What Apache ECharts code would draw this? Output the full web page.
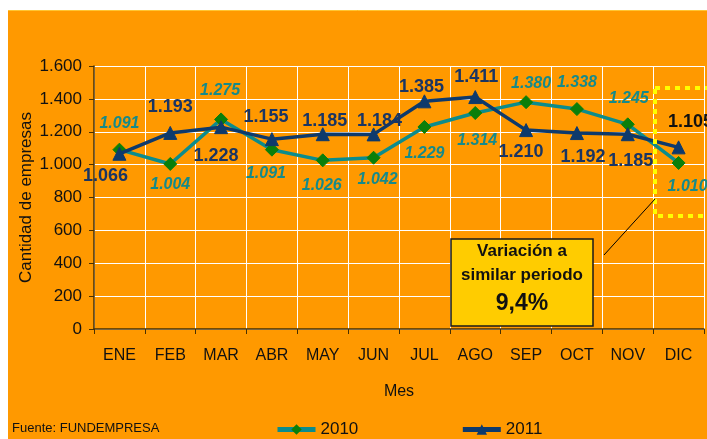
<!DOCTYPE html>
<html>
<head>
<meta charset="utf-8">
<script src="https://cdn.jsdelivr.net/npm/echarts@6/dist/echarts.min.js"></script>
<style>
  html, body { margin: 0; padding: 0; background: #fff; }
  #chart { width: 707px; height: 439px; }
</style>
</head>
<body>
<div id="chart"></div>
<script>
// ===== Data =====
const months = ['ENE', 'FEB', 'MAR', 'ABR', 'MAY', 'JUN', 'JUL', 'AGO', 'SEP', 'OCT', 'NOV', 'DIC'];
const values2010 = [1091, 1004, 1275, 1091, 1026, 1042, 1229, 1314, 1380, 1338, 1245, 1010];
const values2011 = [1066, 1193, 1228, 1155, 1185, 1184, 1385, 1411, 1210, 1192, 1185, 1105];
const yTicks = [0, 200, 400, 600, 800, 1000, 1200, 1400, 1600];

// label offsets from each point (layout only)
const offsets2010 = [[0, -26], [0, 21], [-1, -29], [-6, 24], [-1, 25], [4, 22], [0, 27], [2, 28], [5, -19], [0, -26], [1, -26], [9, 24]];
const offsets2011 = [[-14, 22], [0, -26], [-5, 29], [-6, -22], [2, -13], [6, -13], [-3, -14], [1, -20], [-5, 22], [6, 24], [3, 27], [12, -25]];

const FONT = 'Liberation Sans, Arial, sans-serif';

function fmt(v) {
  return String(v).replace(/\B(?=(\d{3})+(?!\d))/g, '.');
}

function buildData(values, offsets, extra) {
  return values.map((v, i) => {
    const item = { value: v, label: { offset: offsets[i] } };
    if (extra && extra[i]) Object.assign(item.label, extra[i]);
    return item;
  });
}

const chart = echarts.init(document.getElementById('chart'));

const option = {
  backgroundColor: '#FF9900',
  animation: false,
  grid: { left: 94, right: 3, top: 66, bottom: 110, containLabel: false },
  xAxis: {
    type: 'category',
    data: months,
    boundaryGap: true,
    name: 'Mes',
    nameLocation: 'middle',
    nameGap: 55,
    nameTextStyle: { color: '#111', fontSize: 16, fontFamily: FONT },
    axisLine: { lineStyle: { color: '#4a3000', width: 1.5 } },
    axisTick: { show: true, length: 5, inside: false, lineStyle: { color: '#4a3000' } },
    axisLabel: { color: '#111', fontSize: 16, fontFamily: FONT, margin: 19 },
    splitLine: { show: true, lineStyle: { color: '#ffffff', width: 1 } }
  },
  yAxis: {
    type: 'value',
    min: yTicks[0],
    max: yTicks[yTicks.length - 1],
    interval: 200,
    name: 'Cantidad de empresas',
    nameLocation: 'middle',
    nameGap: 59,
    nameMoveOverlap: false,
    nameTextStyle: { color: '#111', fontSize: 17, fontFamily: FONT },
    axisLine: { show: true, lineStyle: { color: '#4a3000', width: 1.5 } },
    axisTick: { show: true, length: 5, lineStyle: { color: '#4a3000' } },
    axisLabel: { color: '#111', fontSize: 17, fontFamily: FONT, margin: 12, formatter: v => fmt(v) },
    splitLine: { show: true, lineStyle: { color: '#ffffff', width: 1 } }
  },
  legend: {
    left: 270,
    top: 416,
    itemWidth: 38,
    itemHeight: 13,
    itemGap: 102,
    lineStyle: { width: 5 },
    textStyle: { color: '#111', fontSize: 17, fontFamily: FONT },
    data: ['2010', '2011']
  },
  series: [
    {
      name: '2010',
      type: 'line',
      data: buildData(values2010, offsets2010),
      symbol: 'diamond',
      symbolSize: 13,
      lineStyle: { color: '#0C8C8C', width: 3.5 },
      itemStyle: { color: '#0A7F0A', borderColor: '#0A7F0A' },
      label: {
        show: true,
        position: 'inside',
        align: 'center',
        verticalAlign: 'middle',
        formatter: p => fmt(p.value),
        color: '#158A8A',
        fontSize: 16,
        fontWeight: 'bold',
        fontStyle: 'italic',
        fontFamily: FONT
      },
      z: 2
    },
    {
      name: '2011',
      type: 'line',
      data: buildData(values2011, offsets2011, { 11: { color: '#111111' } }),
      symbol: 'triangle',
      symbolSize: 13,
      lineStyle: { color: '#0E3A6C', width: 3.5 },
      itemStyle: { color: '#0E3A6C', borderColor: '#0E3A6C' },
      label: {
        show: true,
        position: 'inside',
        align: 'center',
        verticalAlign: 'middle',
        formatter: p => fmt(p.value),
        color: '#1A3563',
        fontSize: 18,
        fontWeight: 'bold',
        fontFamily: FONT
      },
      z: 3
    }
  ],
  graphic: [
    { type: 'rect', shape: { x: 0, y: 0, width: 707, height: 10 }, style: { fill: '#ffffff' }, z: 200 },
    { type: 'rect', shape: { x: 0, y: 0, width: 8, height: 439 }, style: { fill: '#ffffff' }, z: 200 },
    { type: 'line', shape: { x1: 8, y1: 10.5, x2: 707, y2: 10.5 }, style: { stroke: '#FFC533', lineWidth: 1 }, z: 200 },
    {
      type: 'rect',
      shape: { x: 655, y: 88, width: 60, height: 128 },
      style: { fill: 'none', stroke: '#FFFF00', lineWidth: 4, lineDash: [5, 5] },
      z: 100
    },
    { type: 'line', shape: { x1: 604, y1: 255, x2: 655, y2: 199 }, style: { stroke: '#000', lineWidth: 1 }, z: 100 },
    {
      type: 'rect',
      shape: { x: 451, y: 239, width: 142, height: 87 },
      style: { fill: '#FFCC00', stroke: '#1a1a1a', lineWidth: 1.5 },
      z: 100
    },
    {
      type: 'text', x: 522, y: 251, z: 101,
      style: { text: 'Variación a', fill: '#111', font: 'bold 17px ' + FONT, align: 'center', verticalAlign: 'middle' }
    },
    {
      type: 'text', x: 522, y: 275, z: 101,
      style: { text: 'similar periodo', fill: '#111', font: 'bold 17px ' + FONT, align: 'center', verticalAlign: 'middle' }
    },
    {
      type: 'text', x: 522, y: 304, z: 101,
      style: { text: '9,4%', fill: '#111', font: 'bold 23px ' + FONT, align: 'center', verticalAlign: 'middle' }
    },
    {
      type: 'text', x: 12, y: 428, z: 101,
      style: { text: 'Fuente: FUNDEMPRESA', fill: '#111', font: '13px ' + FONT, verticalAlign: 'middle' }
    }
  ]
};

chart.setOption(option);
</script>
</body>
</html>
